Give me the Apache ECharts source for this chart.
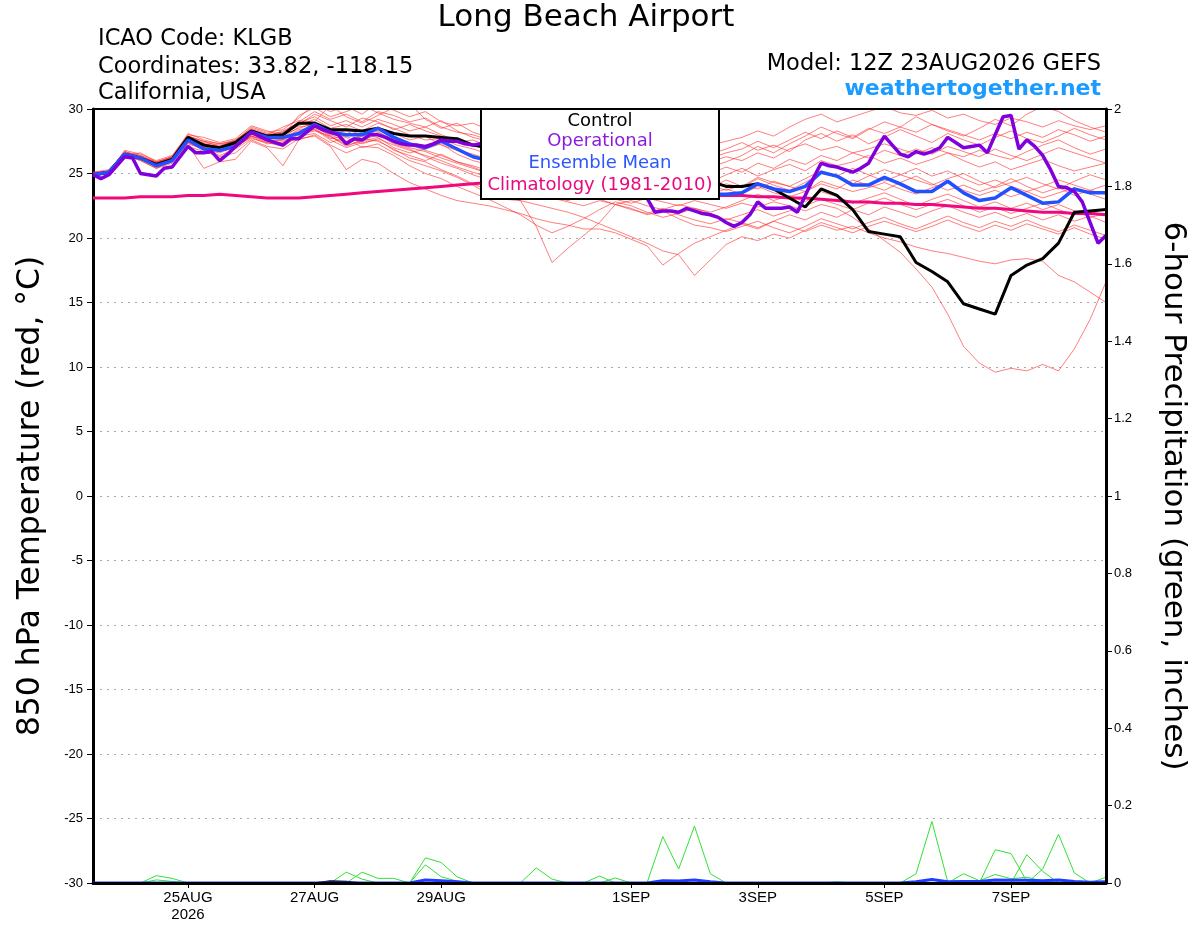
<!DOCTYPE html>
<html>
<head>
<meta charset="utf-8">
<title>Long Beach Airport</title>
<script src="https://cdn.jsdelivr.net/npm/echarts@6.0.0/dist/echarts.min.js"></script>
<style>
html, body { margin: 0; padding: 0; background: #fff; }
#chart { width: 1200px; height: 927px; }
</style>
</head>
<body>
<div id="chart"></div>
<script>
// forecast hours from 12Z 23AUG2026; members every 6 h, operational every 3 h
var tickHours = [36, 84, 132, 204, 252, 300, 348];
var tickLabels = ['25AUG\n2026', '27AUG', '29AUG', '1SEP', '3SEP', '5SEP', '7SEP'];

// 850 hPa temperature (C), 6-hourly
var control = [
  24.9,25.1,26.5,26.2,25.7,26.1,27.8,27.2,27.0,27.4,
  28.3,27.9,28.0,28.9,28.9,28.4,28.4,28.3,28.5,28.1,
  27.9,27.9,27.8,27.7,27.2,27.0,26.8,26.5,26.3,26.0,
  25.6,25.3,25.0,25.2,24.8,24.9,24.6,24.8,24.7,24.4,
  24.0,24.0,24.2,23.8,23.1,22.4,23.8,23.3,22.2,20.5,
  20.3,20.1,18.1,17.4,16.6,14.9,14.5,14.1,17.1,17.9,
  18.4,19.6,22.0,22.1,22.2];
var ensMean = [
  24.9,25.1,26.5,26.2,25.6,26.0,27.6,26.9,26.8,27.1,
  28.2,27.8,27.8,28.1,28.8,28.2,28.0,28.0,28.5,27.8,
  27.3,27.0,27.5,26.9,26.3,26.0,25.8,25.5,25.3,25.0,
  24.8,24.6,24.3,24.2,24.0,23.8,23.7,23.6,23.5,23.4,
  23.4,23.5,24.2,23.8,23.6,24.0,25.1,24.8,24.1,24.1,
  24.7,24.2,23.6,23.6,24.4,23.5,22.9,23.1,23.9,23.3,
  22.7,22.8,23.8,23.5,23.5];
var climatology = [
  23.1,23.1,23.1,23.2,23.2,23.2,23.3,23.3,23.4,23.3,
  23.2,23.1,23.1,23.1,23.2,23.3,23.4,23.5,23.6,23.7,
  23.8,23.9,24.0,24.1,24.2,24.3,24.3,24.3,24.2,24.1,
  24.0,23.9,23.8,23.7,23.6,23.5,23.5,23.4,23.4,23.3,
  23.3,23.3,23.2,23.2,23.1,23.1,23.0,22.9,22.8,22.8,
  22.7,22.7,22.6,22.6,22.5,22.4,22.3,22.3,22.2,22.1,
  22.0,22.0,21.9,21.9,21.8];
// operational run, 3-hourly
var operational = [
  24.9,24.6,24.9,25.6,26.3,26.2,25.0,24.9,24.8,25.4,
  25.5,26.3,27.1,26.6,26.6,26.7,26.0,26.5,27.1,27.6,
  28.2,27.9,27.6,27.4,27.2,27.7,27.7,28.2,28.7,28.4,
  28.2,28.0,27.3,27.7,27.6,28.0,28.0,27.8,27.5,27.3,
  27.2,27.2,27.1,27.3,27.6,27.5,27.5,27.3,27.2,27.3,
  27.0,26.8,26.5,26.6,26.2,26.0,25.8,25.9,25.5,25.3,
  25.0,25.2,24.8,24.6,24.7,24.4,24.2,24.0,23.8,23.5,
  23.1,22.0,22.1,22.1,22.0,22.3,22.1,21.9,21.8,21.6,
  21.2,20.9,21.2,21.8,22.8,22.3,22.3,22.3,22.4,22.0,
  23.3,24.6,25.8,25.6,25.5,25.3,25.1,25.4,25.8,26.9,
  27.9,27.2,26.5,26.3,26.7,26.5,26.7,27.0,27.8,27.4,
  27.0,27.1,27.2,26.6,28.0,29.4,29.5,26.9,27.6,27.1,
  26.4,25.3,24.0,23.9,23.6,22.8,21.2,19.6,20.2];

// ensemble members, 6-hourly
var m01 = [
  25.0,25.2,26.7,26.4,25.8,26.3,28.1,27.6,27.3,27.5,
  28.6,28.2,28.4,29.3,30.4,29.8,30.2,29.6,30.5,29.9,
  29.4,29.8,29.0,28.7,28.9,28.4,28.0,27.6,27.3,27.0,
  26.8,26.5,26.9,26.6,26.3,26.0,26.4,26.1,26.8,27.2,
  27.5,27.8,28.3,27.9,28.6,29.2,29.6,29.0,29.4,29.8,
  30.2,29.7,29.5,29.9,29.3,29.6,29.1,28.8,29.3,29.0,
  28.6,29.1,28.7,28.4,28.7];
var m02 = [
  24.8,25.0,26.4,26.6,25.9,26.2,27.9,27.5,27.1,27.6,
  28.4,28.0,28.6,29.1,29.0,30.3,29.4,28.9,29.5,30.1,
  30.4,29.2,28.5,28.9,28.2,27.8,27.4,27.0,26.6,26.9,
  26.4,26.0,25.7,25.9,25.5,25.2,25.6,25.3,25.0,25.5,
  25.9,26.4,27.1,26.6,27.3,27.9,28.6,28.1,27.7,28.4,
  29.0,28.6,29.4,28.8,28.3,27.9,28.5,29.2,28.7,29.6,
  30.2,29.8,29.1,28.6,28.2];
var m03 = [
  25.1,25.3,26.6,26.3,25.5,26.0,27.6,27.0,26.9,27.3,
  28.1,27.6,28.2,28.8,29.6,29.1,28.6,29.3,29.0,28.4,
  28.8,28.3,27.9,27.4,27.6,27.1,26.7,26.2,25.8,25.4,
  25.1,24.8,25.2,24.9,24.6,24.9,25.3,25.7,26.1,26.5,
  26.9,27.4,26.8,27.2,26.7,27.6,28.1,27.5,28.0,27.3,
  27.8,28.4,27.9,27.4,28.1,27.6,27.2,27.8,28.3,27.7,
  27.4,27.9,28.5,28.0,27.6];
var m04 = [
  24.9,25.1,26.8,26.5,26.0,26.4,28.0,27.8,27.4,27.7,
  28.7,28.3,27.9,29.5,30.1,29.4,29.8,30.3,29.7,29.2,
  28.9,28.6,29.1,28.3,27.8,27.5,27.2,26.8,26.5,26.1,
  25.8,25.5,25.1,24.7,24.4,24.8,25.1,24.9,25.4,25.9,
  26.3,26.0,26.6,26.2,26.9,27.3,26.8,27.1,26.6,26.9,
  27.3,26.9,26.5,27.0,26.6,26.3,26.8,26.4,26.1,26.7,
  27.2,27.6,27.0,26.5,26.9];
var m05 = [
  24.9,25.0,26.3,26.1,25.6,26.1,27.7,27.3,27.0,27.2,
  28.2,27.8,28.0,28.5,28.9,28.2,28.4,28.0,28.6,28.1,
  27.6,27.9,27.2,26.8,26.5,26.1,25.8,25.5,25.2,24.9,
  24.6,24.3,24.7,24.4,24.1,24.5,24.8,24.2,24.6,24.3,
  24.9,25.4,24.8,25.3,25.7,25.2,26.0,25.6,25.9,26.4,
  25.8,26.2,25.7,26.1,26.6,26.0,25.5,25.9,25.3,25.7,
  26.1,25.6,25.2,25.5,25.8];
var m06 = [
  25.0,25.1,26.5,26.2,25.7,26.0,27.5,27.1,26.8,27.0,
  27.9,27.5,27.7,28.4,28.6,28.0,27.5,27.9,28.3,27.4,
  27.0,26.7,26.2,25.8,25.4,25.0,24.8,24.5,24.1,23.9,
  24.2,23.8,23.5,23.9,23.6,24.0,24.3,23.9,23.6,23.8,
  24.2,23.9,24.6,24.1,23.7,24.3,25.1,24.7,24.2,24.8,
  25.3,24.9,24.5,24.1,24.6,25.0,24.4,23.9,24.3,24.7,
  24.2,23.8,24.4,24.9,24.5];
var m07 = [
  24.8,25.2,26.4,26.0,25.4,25.9,27.4,26.8,26.6,27.1,
  27.8,27.3,27.4,28.0,28.3,27.9,27.2,27.5,27.8,27.0,
  26.6,26.9,27.3,26.5,26.0,25.7,25.3,24.9,24.6,24.2,
  23.9,23.6,23.9,23.4,23.1,23.5,23.9,24.2,23.8,24.1,
  23.7,24.1,23.8,24.4,24.0,23.6,24.2,23.8,24.5,24.1,
  23.7,24.3,24.8,24.2,23.7,24.1,23.6,24.0,24.6,24.0,
  23.5,23.9,23.3,23.7,24.1];
var m08 = [
  25.0,25.0,26.2,26.3,25.8,26.2,27.8,27.2,26.9,27.4,
  28.0,27.7,27.3,28.2,28.4,27.6,27.0,27.4,27.6,26.8,
  26.4,26.0,26.5,25.9,25.6,25.2,24.9,24.4,23.9,24.3,
  23.8,23.4,23.7,23.3,23.6,23.2,23.6,23.2,23.0,23.4,
  23.8,23.4,24.0,23.5,23.2,23.6,24.4,24.0,23.6,23.9,
  24.3,23.8,23.4,23.9,24.3,23.7,23.3,23.7,23.2,23.6,
  23.1,23.5,23.9,23.4,23.0];
var m09 = [
  24.9,25.1,26.6,26.4,25.9,26.3,27.9,27.4,27.2,27.5,
  28.4,28.0,28.1,28.7,29.2,28.5,28.8,28.3,28.9,28.5,
  28.0,27.6,27.7,27.2,26.9,26.5,26.1,25.7,25.4,25.0,
  24.7,24.4,24.0,23.7,24.1,23.8,23.5,23.9,23.6,23.9,
  24.5,24.0,24.7,24.3,24.0,24.6,25.2,24.8,25.4,24.9,
  24.4,24.9,25.4,24.8,25.2,24.6,24.1,24.5,24.0,23.6,
  24.0,24.5,24.1,23.7,23.4];
var m10 = [
  24.8,25.0,26.3,26.1,25.5,25.9,27.2,25.4,25.9,26.1,
  27.5,27.0,25.6,27.6,28.0,27.2,26.6,27.1,27.0,26.4,
  25.6,25.0,24.6,24.0,23.5,23.0,22.4,21.8,21.0,20.4,
  20.9,21.5,22.2,22.8,22.5,22.0,21.6,21.9,22.3,21.9,
  21.4,21.8,22.2,21.7,22.1,22.5,23.0,22.6,22.2,22.7,
  23.1,22.6,22.2,22.6,23.0,22.5,22.0,22.4,21.9,22.3,
  22.7,22.2,21.8,22.1,21.7];
var m11 = [
  25.0,25.1,26.4,26.2,25.6,26.0,27.3,26.9,26.4,26.9,
  27.7,27.4,27.1,27.9,28.1,27.4,27.8,27.0,27.3,26.6,
  26.0,25.6,25.2,24.7,24.1,23.4,23.0,22.9,20.9,18.1,
  19.2,20.2,21.2,22.6,22.3,21.8,22.1,21.5,21.0,20.8,
  20.5,20.9,21.3,20.8,20.4,20.9,21.5,21.1,20.7,21.2,
  21.6,21.1,20.7,21.2,21.7,21.2,20.8,21.3,20.9,21.4,
  20.9,20.5,21.0,20.6,20.2];
var m12 = [
  24.9,25.0,26.5,26.0,25.4,25.8,27.1,26.7,26.3,26.6,
  27.6,27.1,26.9,27.7,27.9,27.1,25.3,26.1,25.8,25.0,
  24.3,23.8,23.3,22.9,22.7,22.5,22.2,21.9,21.5,21.2,
  21.0,20.7,20.7,20.4,19.9,19.4,17.9,18.8,19.6,20.1,
  20.6,21.1,20.7,21.3,21.8,21.4,22.0,21.6,22.2,21.8,
  22.4,22.0,21.6,22.1,22.5,22.0,21.6,22.0,21.5,21.9,
  21.4,21.8,21.3,21.7,21.2];
var m13 = [
  25.1,25.2,26.6,26.3,25.7,26.2,27.5,27.0,26.7,27.0,
  27.9,27.6,27.5,28.1,28.4,27.8,27.4,27.7,27.5,26.9,
  26.2,25.9,25.3,24.8,24.2,23.7,23.3,22.9,22.6,22.3,
  22.0,21.6,21.1,20.6,20.1,19.6,19.0,18.7,17.1,18.3,
  19.5,20.1,19.8,20.3,20.0,20.6,21.2,20.8,20.4,20.9,
  21.3,20.9,20.5,20.9,21.4,20.9,20.5,21.0,20.6,21.1,
  20.7,20.3,20.8,20.3,19.9];
var m14 = [
  24.9,25.1,26.4,26.1,25.6,26.1,27.6,27.1,26.8,27.2,
  28.1,27.7,27.8,28.6,28.8,28.1,28.3,27.7,28.2,27.6,
  27.2,26.8,26.4,25.9,25.5,25.0,24.6,24.3,24.0,23.6,
  23.3,23.7,23.4,23.0,22.7,23.1,22.8,22.5,22.9,22.6,
  22.3,22.7,22.4,22.8,22.5,22.1,22.6,22.3,21.6,20.7,
  19.8,18.9,17.6,16.2,14.1,11.6,10.3,9.6,9.9,9.7,
  10.2,9.7,11.4,13.7,16.6];
var m15 = [
  25.0,25.2,26.5,26.3,25.8,26.2,27.7,27.3,27.0,27.3,
  28.3,27.9,27.6,28.3,28.6,27.9,27.1,27.6,28.0,27.3,
  26.9,26.3,25.8,25.4,24.9,24.5,24.1,23.8,23.4,23.1,
  22.8,22.5,22.9,22.6,22.2,21.9,22.3,21.8,21.4,21.1,
  21.5,21.2,20.8,21.3,20.9,20.5,21.0,20.6,20.9,20.4,
  20.0,19.7,19.3,19.0,18.8,18.5,18.2,18.0,18.3,18.4,
  18.2,17.1,16.6,15.8,15.0];
var m16 = [
  24.9,25.1,26.5,26.3,25.8,26.1,27.8,27.3,27.1,27.4,
  28.3,27.9,28.3,28.9,29.4,28.7,29.1,28.6,29.2,28.8,
  28.3,28.6,28.0,27.6,27.3,26.9,26.5,26.1,25.8,25.5,
  25.2,24.9,24.5,24.8,24.4,24.1,24.5,24.2,24.6,25.0,
  25.5,25.1,25.8,25.4,26.1,25.7,26.4,26.0,26.6,26.2,
  26.8,26.4,26.9,26.5,27.1,26.7,26.3,26.9,26.4,26.0,
  26.5,27.0,26.6,26.2,25.8];
var m17 = [
  25.0,25.0,26.3,26.2,25.7,26.0,27.4,27.0,26.7,27.1,
  27.9,27.4,27.6,28.2,28.5,27.7,27.9,27.3,27.7,27.2,
  26.8,26.4,26.0,25.5,25.1,24.7,24.3,23.9,23.5,23.2,
  22.9,23.3,23.0,22.6,22.9,22.5,22.2,22.6,22.3,22.0,
  22.4,22.9,23.4,22.9,23.3,22.8,23.6,23.2,22.7,23.1,
  23.5,23.0,22.5,23.0,23.4,22.9,22.4,22.8,22.3,22.7,
  22.2,22.6,22.1,21.6,21.9];
var m18 = [
  24.9,25.2,26.7,26.3,25.9,26.3,27.9,27.5,27.3,27.6,
  28.5,28.1,28.2,29.0,29.8,29.2,29.6,29.0,29.8,29.5,
  29.0,29.3,28.6,28.2,28.0,27.6,27.2,26.9,26.5,26.2,
  25.9,25.6,25.9,25.5,25.2,25.6,25.9,25.5,25.8,26.2,
  26.6,26.9,27.5,27.0,27.6,28.2,27.7,28.3,27.8,28.5,
  28.1,28.6,28.2,28.8,28.4,28.0,27.6,28.1,27.7,28.2,
  27.8,28.4,28.0,27.5,27.9];
var members = [m01, m02, m03, m04, m05, m06, m07, m08, m09, m10, m11, m12, m13, m14, m15, m16, m17, m18];

// 6-hour precipitation (inches) as [step, value], step = 6 h
var precipMean = [[0,0],[20,0],[21,0.008],[22,0.006],[23,0.003],[24,0],[35,0],[36,0.006],[37,0.005],[38,0.008],
  [39,0.003],[40,0],[51,0],[52,0.003],[53,0.009],[54,0.003],[55,0.004],[56,0.004],[57,0.008],[58,0.007],
  [59,0.007],[60,0.006],[61,0.008],[62,0.004],[63,0.002],[64,0.003]];
var precipControl = [[0,0],[14,0],[15,0.005],[16,0.004],[17,0],[64,0]];
var precipG1 = [[0,0],[3,0],[4,0.019],[5,0.012],[6,0],[20,0],[21,0.065],[22,0.053],[23,0.016],[24,0],
  [35,0],[36,0.12],[37,0.036],[38,0.147],[39,0.024],[40,0],[64,0]];
var precipG2 = [[0,0],[3,0],[4,0.008],[5,0.004],[6,0],[15,0],[16,0.028],[17,0.01],[18,0],[20,0],
  [21,0.047],[22,0.016],[23,0.005],[24,0],[51,0],[52,0.024],[53,0.159],[54,0.003],[64,0]];
var precipG3 = [[0,0],[16,0],[17,0.028],[18,0.012],[19,0.012],[20,0],[31,0],[32,0.018],[33,0],
  [56,0],[57,0.086],[58,0.076],[59,0.004],[64,0]];
var precipG4 = [[0,0],[27,0],[28,0.039],[29,0.01],[30,0],[32,0],[33,0.013],[34,0],[46,0],[47,0.003],[48,0],
  [54,0],[55,0.024],[56,0.006],[57,0.022],[58,0.011],[59,0.015],[60,0.005],[61,0],[64,0]];
var precipG5 = [[0,0],[58,0],[59,0.073],[60,0.03],[61,0],[64,0]];
var precipG6 = [[0,0],[59,0],[60,0.036],[61,0.126],[62,0.026],[63,0],[64,0.015]];
var precipMembers = [precipG1, precipG2, precipG3, precipG4, precipG5, precipG6];

function every6(arr) { return arr.map(function (v, i) { return [i * 6, v]; }); }
function every3(arr) { return arr.map(function (v, i) { return [i * 3, v]; }); }
function steps(arr) { return arr.map(function (p) { return [p[0] * 6, p[1]]; }); }

function line(data, color, width, yIndex, z) {
  return {
    type: 'line', data: data, yAxisIndex: yIndex, showSymbol: false, symbol: 'none',
    silent: true, z: z, clip: true,
    lineStyle: { color: color, width: width }
  };
}

var series = [];
members.forEach(function (m) { series.push(line(every6(m), 'rgba(255,40,40,0.6)', 1, 0, 2)); });
precipMembers.forEach(function (p) { series.push(line(steps(p), '#33e033', 1, 1, 3)); });
series.push(line(steps(precipControl), '#000', 1.5, 1, 4));
series.push(line(steps(precipMean), '#1f3cff', 3, 1, 4));
series.push(line(every6(climatology), '#f0087f', 3, 0, 5));
series.push(line(every6(control), '#000', 3, 0, 6));
series.push(line(every6(ensMean), '#2250ff', 3.5, 0, 7));
series.push(line(every3(operational), '#8000dd', 3.5, 0, 8));

var headFont = 'DejaVu Sans';
function txt(x, y, text, size, color, align, weight) {
  return {
    type: 'text', x: x, y: y, z: 101, silent: true,
    style: {
      text: text, fill: color, textAlign: align, align: align,
      textVerticalAlign: 'middle', verticalAlign: 'middle',
      font: (weight || 'normal') + ' ' + size + 'px "' + headFont + '"'
    }
  };
}

var chart = echarts.init(document.getElementById('chart'));
chart.setOption({
  animation: false,
  backgroundColor: '#fff',
  grid: { left: 93, right: 94, top: 109, bottom: 44 },
  xAxis: [{
    type: 'value', min: 0, max: 384, position: 'bottom', z: 10,
    axisLine: { show: true, onZero: false, lineStyle: { color: '#000', width: 3 } },
    axisTick: { show: true, customValues: tickHours, length: 5, lineStyle: { color: '#000', width: 1 } },
    axisLabel: {
      customValues: tickHours, margin: 6, color: '#000', fontSize: 15, lineHeight: 17,
      fontFamily: 'Liberation Sans',
      formatter: function (v) { var k = tickHours.indexOf(v); return k < 0 ? '' : tickLabels[k]; }
    },
    splitLine: { show: false }
  }, {
    // top frame line only
    type: 'value', min: 0, max: 384, position: 'top', z: 10,
    axisLine: { show: true, onZero: false, lineStyle: { color: '#000', width: 2 } },
    axisTick: { show: false }, axisLabel: { show: false }, splitLine: { show: false }
  }],
  yAxis: [{
    type: 'value', min: -30, max: 30, interval: 5, position: 'left', z: 1,
    name: '850 hPa Temperature (red, \u00b0C)', nameLocation: 'middle', nameGap: 46, nameRotate: 90,
    nameTextStyle: { fontSize: 31.5, fontFamily: headFont, color: '#000' },
    axisLine: { show: true, onZero: false, lineStyle: { color: '#000', width: 3 } },
    axisTick: { show: true, length: 6, lineStyle: { color: '#000', width: 1 } },
    axisLabel: { color: '#000', fontSize: 13, margin: 10, fontFamily: 'Liberation Sans' },
    splitLine: {
      show: true, showMinLine: false, showMaxLine: false,
      lineStyle: { color: '#aaa', width: 1, type: [2, 5] }
    }
  }, {
    type: 'value', min: 0, max: 2, interval: 0.2, position: 'right', z: 10,
    name: '6-hour Precipitation (green, inches)', nameLocation: 'middle', nameGap: 52, nameRotate: -90,
    nameTextStyle: { fontSize: 31, fontFamily: headFont, color: '#000' },
    axisLine: { show: true, onZero: false, lineStyle: { color: '#000', width: 3 } },
    axisTick: { show: true, length: 6, lineStyle: { color: '#000', width: 1 } },
    axisLabel: {
      color: '#000', fontSize: 13, margin: 8, fontFamily: 'Liberation Sans',
      formatter: function (v) { return String(Math.round(v * 10) / 10); }
    },
    splitLine: { show: false }
  }],
  graphic: [
    txt(586, 18, 'Long Beach Airport', 31, '#000', 'center'),
    txt(98, 39, 'ICAO Code: KLGB', 22.5, '#000', 'left'),
    txt(98, 67, 'Coordinates: 33.82, -118.15', 22.5, '#000', 'left'),
    txt(98, 93, 'California, USA', 22.5, '#000', 'left'),
    txt(1101, 64, 'Model: 12Z 23AUG2026 GEFS', 22.5, '#000', 'right'),
    txt(1101, 89, 'weathertogether.net', 22, '#1a9bff', 'right', 'bold'),
    {
      type: 'rect', z: 100, silent: true,
      shape: { x: 481, y: 109, width: 238, height: 90 },
      style: { fill: '#fff', stroke: '#000', lineWidth: 2 }
    },
    txt(600, 121, 'Control', 18, '#000', 'center'),
    txt(600, 141, 'Operational', 18, '#8a1be0', 'center'),
    txt(600, 163, 'Ensemble Mean', 18, '#2a55ff', 'center'),
    txt(600, 185, 'Climatology (1981-2010)', 18, '#e8087f', 'center')
  ],
  series: series
});
</script>
</body>
</html>
